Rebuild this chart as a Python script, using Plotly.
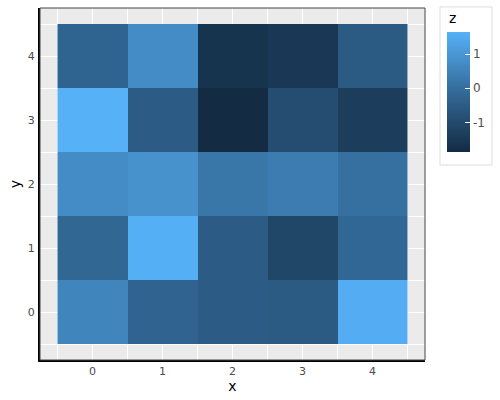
import plotly.graph_objects as go

x_vals = [0, 1, 2, 3, 4]
y_vals = [0, 1, 2, 3, 4]
# z[row y][col x]
z_row0 = [0.55, -0.30, -0.50, -0.55, 1.55]
z_row1 = [-0.21, 1.60, -0.50, -1.10, -0.20]
z_row2 = [0.73, 0.87, 0.20, 0.34, 0.04]
z_row3 = [1.64, -0.50, -1.87, -0.92, -1.38]
z_row4 = [-0.29, 0.73, -1.63, -1.50, -0.54]
z = [z_row0, z_row1, z_row2, z_row3, z_row4]

tick_vals = [0, 1, 2, 3, 4]
cbar_ticks = [-1, 0, 1]

fig = go.Figure(go.Heatmap(
    x=x_vals, y=y_vals, z=z,
    colorscale=[[0, "#132B43"], [0.5, "#336A98"], [1, "#56B1F7"]],
    colorbar=dict(
        thickness=23, len=120, lenmode="pixels",
        x=1.057, xanchor="left", y=0.761, yanchor="middle",
        xpad=0, ypad=0, outlinewidth=0,
        tickvals=cbar_ticks, ticktext=["-1", "0", "1"],
        ticks="inside", tickcolor="white", ticklen=5,
        tickfont=dict(size=12, color="#4D4D4D"),
    ),
))

fig.add_annotation(text="z", xref="paper", yref="paper", x=1.057, y=0.972,
                   xanchor="left", yanchor="middle", showarrow=False,
                   font=dict(size=14, color="black"))
fig.add_shape(type="rect", xref="paper", yref="paper",
              x0=1.039, x1=1.174, y0=0.554, y1=1.003,
              line=dict(color="#DDDDDD", width=1), fillcolor="rgba(0,0,0,0)")
fig.add_shape(type="rect", xref="paper", yref="paper",
              x0=0, x1=1, y0=0, y1=1,
              line=dict(color="#444444", width=1), fillcolor="rgba(0,0,0,0)")

axis_common = dict(
    showgrid=True, gridcolor="white", gridwidth=1.2,
    zeroline=False, ticks="", showline=True, linecolor="black", linewidth=2,
    tickfont=dict(size=11, color="#4D4D4D"),
    minor=dict(showgrid=True, gridcolor="white", gridwidth=0.6, tick0=0.5, dtick=1),
)

fig.update_layout(
    width=500, height=400,
    margin=dict(l=40, r=75, t=8, b=40),
    paper_bgcolor="white", plot_bgcolor="#EBEBEB",
    font=dict(family="DejaVu Sans"),
    xaxis=dict(range=[-0.75, 4.75], tickvals=tick_vals,
               title=dict(text="x", font=dict(size=14, color="black"), standoff=0),
               **axis_common),
    yaxis=dict(range=[-0.75, 4.75], tickvals=tick_vals, ticklabelstandoff=1,
               title=dict(text="y", font=dict(size=14, color="black"), standoff=4),
               **axis_common),
)

fig.write_html("out.html")
